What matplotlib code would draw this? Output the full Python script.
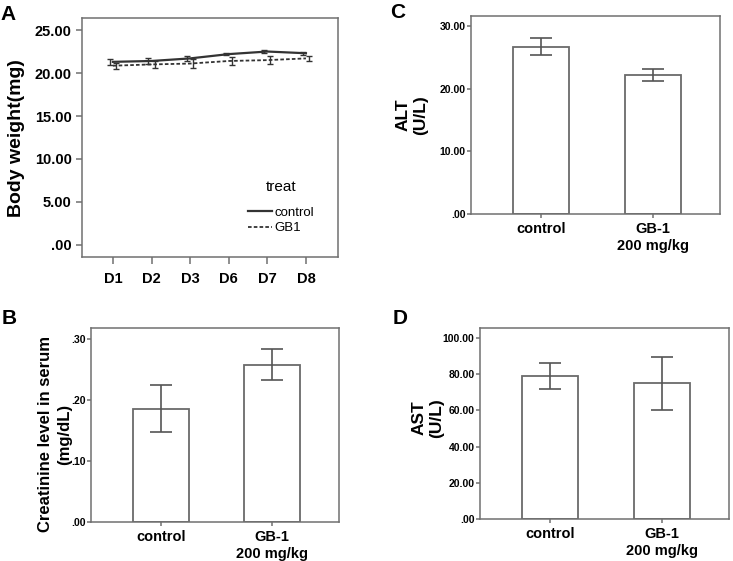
import matplotlib
matplotlib.use("Agg")
import matplotlib.pyplot as plt
import numpy as np

plt.rcParams['font.family'] = ['Liberation Sans', 'DejaVu Sans']

# ---- Data ----
days = ["D1", "D2", "D3", "D6", "D7", "D8"]
bw_control = [21.3, 21.4, 21.7, 22.2, 22.5, 22.3]
bw_control_err = [0.35, 0.3, 0.3, 0.15, 0.15, 0.2]
bw_gb1 = [20.85, 21.0, 21.1, 21.4, 21.5, 21.7]
bw_gb1_err = [0.35, 0.4, 0.55, 0.5, 0.45, 0.3]

groups = ["control", "GB-1\n200 mg/kg"]
creat = [0.185, 0.258]
creat_lo = [0.147, 0.232]
creat_hi = [0.224, 0.284]
alt = [26.7, 22.2]
alt_lo = [25.3, 21.3]
alt_hi = [28.1, 23.1]
ast = [79.0, 75.0]
ast_lo = [72.0, 60.0]
ast_hi = [86.0, 89.5]

W, H = 733, 561
fig = plt.figure(figsize=(W / 100, H / 100), dpi=100)

def add_ax(l, t, r, b):
    return fig.add_axes([l / W, 1 - b / H, (r - l) / W, (b - t) / H])

FRAME = "#707070"

def style(ax):
    for s in ax.spines.values():
        s.set_color(FRAME)
        s.set_linewidth(1.1)
    ax.tick_params(color=FRAME, length=4, width=1.1, direction='out')

# ---- Panel A ----
axA = add_ax(82, 18, 338, 257)
style(axA)
x = np.arange(len(days))
axA.errorbar(x - 0.08, bw_control, yerr=bw_control_err, fmt='none', ecolor='#333333',
             elinewidth=1.0, capsize=2, capthick=1.0)
axA.errorbar(x + 0.08, bw_gb1, yerr=bw_gb1_err, fmt='none', ecolor='#333333',
             elinewidth=1.0, capsize=2, capthick=1.0)
axA.plot(x, bw_control, color='#333333', lw=1.6, ls='-', label='control')
axA.plot(x, bw_gb1, color='#333333', lw=1.3, ls=(0, (2, 1.2)), label='GB1')
axA.set_xlim(-0.8, 5.83)
axA.set_ylim(-1.4, 26.4)
axA.set_xticks(x)
axA.set_xticklabels(days, fontsize=10.5, fontweight='bold')
axA.set_yticks([0, 5, 10, 15, 20, 25])
axA.set_yticklabels([".00", "5.00", "10.00", "15.00", "20.00", "25.00"],
                    fontsize=10.5, fontweight='bold')
axA.tick_params(axis='x', length=5, pad=6)
leg = axA.legend(title='treat', loc='upper left', bbox_to_anchor=(0.624, 0.35),
                 frameon=False, fontsize=9.5, title_fontsize=11,
                 handlelength=1.8, handletextpad=0.15, labelspacing=0.25,
                 borderpad=0.0)
leg._legend_box.sep = 9
fig.text(17 / W, 1 - 138 / H, "Body weight(mg)", rotation=90, ha='center', va='center',
         fontsize=14, fontweight='bold')

# ---- bar panels ----
def bar_panel(box, vals, lo, hi, ylim, ticks, ticklabels):
    ax = add_ax(*box)
    style(ax)
    xb = np.arange(len(vals))
    ax.bar(xb, vals, width=0.5, color='white', edgecolor='#6a6a6a', linewidth=1.3, zorder=2)
    err = [np.array(vals) - np.array(lo), np.array(hi) - np.array(vals)]
    ax.errorbar(xb, vals, yerr=err, fmt='none', ecolor='#555555', elinewidth=1.2,
                capsize=8, capthick=1.2, zorder=3)
    ax.set_xlim(-0.625, 1.6)
    ax.set_ylim(*ylim)
    ax.set_xticks(xb)
    ax.set_xticklabels(groups, fontsize=10.5, fontweight='bold', linespacing=1.2)
    ax.set_yticks(ticks)
    ax.set_yticklabels(ticklabels, fontsize=7.5, fontweight='bold')
    ax.tick_params(axis='x', length=3, pad=3)
    ax.tick_params(axis='y', length=3, pad=1)
    return ax

axC = bar_panel((471, 16, 720, 214), alt, alt_lo, alt_hi, (0, 31.6),
                [0, 10, 20, 30], [".00", "10.00", "20.00", "30.00"])
fig.text(412 / W, 1 - 115 / H, "ALT\n(U/L)", rotation=90, ha='center', va='center',
         fontsize=12.5, fontweight='bold', multialignment='center')

axB = bar_panel((91, 328, 339, 522), creat, creat_lo, creat_hi, (0, 0.318),
                [0, 0.1, 0.2, 0.3], [".00", ".10", ".20", ".30"])
fig.text(55 / W, 1 - 434 / H, "Creatinine level in serum\n(mg/dL)", rotation=90,
         ha='center', va='center', fontsize=12, fontweight='bold', multialignment='center',
         linespacing=1.3)

axD = bar_panel((480, 328, 729, 519), ast, ast_lo, ast_hi, (0, 105.5),
                [0, 20, 40, 60, 80, 100], [".00", "20.00", "40.00", "60.00", "80.00", "100.00"])
fig.text(428 / W, 1 - 418 / H, "AST\n(U/L)", rotation=90, ha='center', va='center',
         fontsize=12.5, fontweight='bold', multialignment='center')

# panel letters
for lab, px, py in [("A", 8, 14), ("C", 398, 12), ("B", 9, 318), ("D", 400, 318)]:
    fig.text(px / W, 1 - py / H, lab, ha='center', va='center', fontsize=15, fontweight='bold')

fig.savefig("out.png", dpi=100)
